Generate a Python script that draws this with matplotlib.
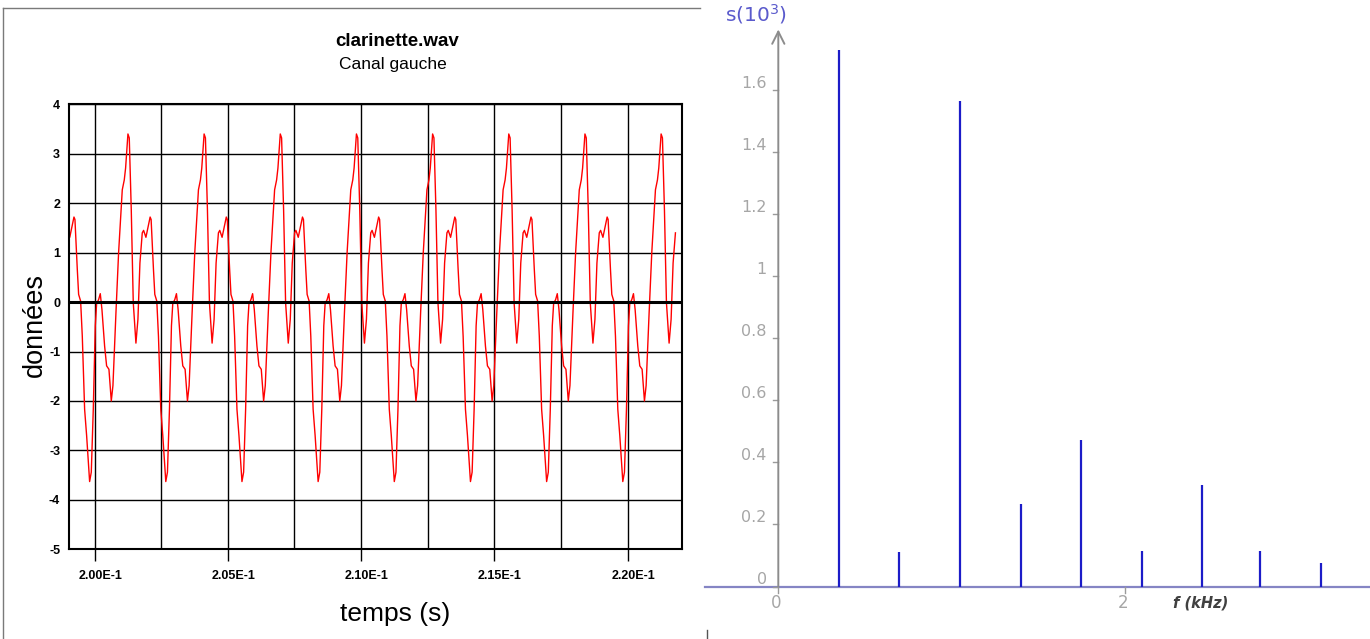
import numpy as np
import matplotlib.pyplot as plt
from matplotlib.lines import Line2D
from matplotlib.ticker import MultipleLocator, FuncFormatter
from matplotlib.transforms import ScaledTranslation

plt.rcParams['axes.unicode_minus'] = False

# --- left panel: one period of the clarinet wave ---
# phase in ms relative to the big positive peak, value in "données"
phase_ms = [-2.025, -1.988, -1.900, -1.850, -1.775, -1.7125, -1.625, -1.550,
            -1.4375, -1.375, -1.300, -1.225, -1.175, -1.100, -1.0375, -0.975,
            -0.875, -0.800, -0.7125, -0.625, -0.5625, -0.450, -0.350, -0.250,
            -0.2125, -0.1375, -0.0875, 0.0, 0.050, 0.125, 0.200, 0.300,
            0.375, 0.450, 0.5375, 0.5875, 0.675, 0.7375]
period_val = [1.72, 1.67, 0.66, 0.155, 0.02, -0.69, -2.17, -2.70,
              -3.63, -3.44, -2.17, -0.48, -0.03, 0.05, 0.17, -0.15,
              -0.89, -1.29, -1.36, -2.00, -1.69, -0.22, 1.00, 1.94,
              2.27, 2.47, 2.71, 3.40, 3.32, 1.87, -0.01, -0.83,
              -0.35, 0.79, 1.40, 1.45, 1.31, 1.47]
first_peak = 0.20125     # s
period = 0.002858        # s
t_start, t_end = 0.19902, 0.2218

# --- right panel: spectrum ---
freq_khz = [0.348, 0.697, 1.045, 1.397, 1.745, 2.095, 2.442, 2.779, 3.127]
ampl = [1.73, 0.110, 1.565, 0.267, 0.473, 0.116, 0.326, 0.116, 0.075]
s_ticks = [1.6, 1.4, 1.2, 1, 0.8, 0.6, 0.4, 0.2, 0]
s_labels = ["1.6", "1.4", "1.2", "1", "0.8", "0.6", "0.4", "0.2", "0"]
f_ticks = [0, 2]
f_labels = ["0", "2"]

t_list, v_list = [], []
for k in range(-2, 10):
    for p, v in zip(phase_ms, period_val):
        t = first_peak + k * period + p / 1000.0
        if t_start - 0.0002 <= t <= t_end:
            t_list.append(t)
            v_list.append(v)

W, H = 1370, 639
fig = plt.figure(figsize=(13.7, 6.39), dpi=100)
fig.patch.set_facecolor("white")

# outer frame of the left picture
frame = "#7a7a7a"
fig.add_artist(Line2D([3 / W, 700 / W], [1 - 8 / H, 1 - 8 / H], color=frame, lw=1))
fig.add_artist(Line2D([3 / W, 3 / W], [0, 1 - 8 / H], color=frame, lw=1))
fig.add_artist(Line2D([707 / W, 707 / W], [0, 9 / H], color="#555555", lw=1))

ax = fig.add_axes([68.5 / W, 1 - 549.3 / H, 613.5 / W, 445 / H])
ax.plot(t_list, v_list, color="red", lw=1.0)
ax.set_xlim(t_start, 0.22204)
ax.set_ylim(-5, 4)
ax.xaxis.set_major_locator(MultipleLocator(0.005))
ax.xaxis.set_minor_locator(MultipleLocator(0.0025))
ax.yaxis.set_major_locator(MultipleLocator(1))
ax.xaxis.set_major_formatter(FuncFormatter(lambda x, _: f"{x * 10:.2f}E-1"))
ax.grid(which="both", axis="x", color="black", lw=1.0)
ax.grid(which="major", axis="y", color="black", lw=1.0)
ax.axhline(0, color="black", lw=2.2)
for s in ax.spines.values():
    s.set_linewidth(1.5)
ax.tick_params(axis="x", which="major", direction="out", length=8.6, width=1, pad=6.5)
ax.tick_params(axis="x", which="minor", length=0)
ax.tick_params(axis="y", length=0, pad=6)
for lab in ax.get_xticklabels() + ax.get_yticklabels():
    lab.set_fontfamily("Liberation Sans")
    lab.set_fontweight("bold")
    lab.set_fontsize(9)
shift = ScaledTranslation(5.5 / 100, 0, fig.dpi_scale_trans)
for lab in ax.get_xticklabels():
    lab.set_transform(lab.get_transform() + shift)

fig.text(397 / W, 1 - 42 / H, "clarinette.wav", ha="center", va="center",
         family="Liberation Sans", weight="bold", fontsize=13.5)
fig.text(393 / W, 1 - 64 / H, "Canal gauche", ha="center", va="center",
         family="Liberation Sans", fontsize=12.5)
fig.text(395 / W, 1 - 614 / H, "temps (s)", ha="center", va="center",
         family="Liberation Sans", fontsize=19)
fig.text(35 / W, 1 - 325 / H, "données", ha="center", va="center", rotation=90,
         family="Liberation Sans", fontsize=19.5)

# --- right panel ---
ax2 = fig.add_axes([700 / W, 0, 670 / W, 1])
ax2.set_xlim(-0.4516, 3.4124)
ax2.set_ylim(-0.16935, 1.8919)
ax2.axis("off")

x0, x1 = ax2.get_xlim()
ax2.plot([-0.4227, x1], [0, 0], color="#8585c4", lw=1.6, zorder=2)
ax2.annotate("", xy=(0, 1.797), xytext=(0, 0),
             arrowprops=dict(arrowstyle="->", color="#8c8c8c", lw=1.4,
                             mutation_scale=22, shrinkA=0, shrinkB=0))
ax2.vlines(freq_khz, 0, ampl, color="#1c1cc8", lw=1.6, zorder=3)

for v, lab in zip(s_ticks, s_labels):
    ax2.plot([-0.03, 0], [v, v], color="#9a9a9a", lw=1)
    ax2.text(-0.066, v + 0.022, lab, ha="right", va="center",
             color="#a6a6a6", fontsize=11.5)
for f, lab in zip(f_ticks, f_labels):
    ax2.plot([f, f], [0, -0.02], color="#9a9a9a", lw=1)
    ax2.text(f - 0.01, -0.053, lab, ha="center", va="center",
             color="#a6a6a6", fontsize=12)

ax2.text(2.438, -0.053, "f (kHz)", ha="center", va="center", color="#404040",
         fontsize=10.5, style="italic", weight="bold")
ax2.text(-0.129, 1.847, "s(10$^3$)", ha="center", va="center", color="#5a5acc",
         fontsize=14.5)

fig.savefig("out.png", dpi=100)
